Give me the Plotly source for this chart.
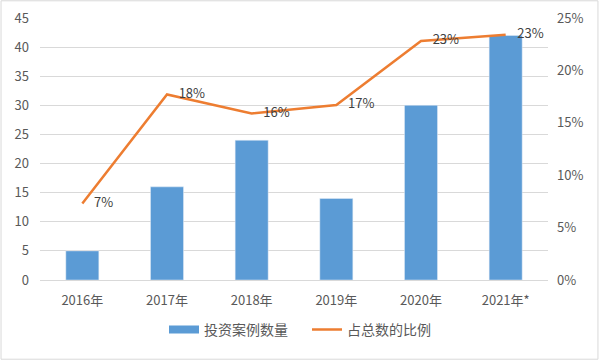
import plotly.graph_objects as go

years = ["2016年", "2017年", "2018年", "2019年", "2020年", "2021年*"]
cases = [5, 16, 24, 14, 30, 42]
ratio = [0.073, 0.177, 0.159, 0.167, 0.228, 0.234]
ratio_labels = ["7%", "18%", "16%", "17%", "23%", "23%"]

font_family = "Noto Sans CJK SC, Noto Sans, sans-serif"
BLUE = "#5B9BD5"
ORANGE = "#ED7D31"
TICK = "#595959"

fig = go.Figure()
fig.add_trace(go.Bar(
    x=years, y=cases, name="投资案例数量",
    marker=dict(color=BLUE), width=0.39, showlegend=False,
))
# legend entry drawn as a wide swatch, like the reference
fig.add_trace(go.Scatter(
    x=[None], y=[None], name="投资案例数量", mode="lines",
    line=dict(color=BLUE, width=8),
))
fig.add_trace(go.Scatter(
    x=years, y=ratio, name="占总数的比例", yaxis="y2",
    mode="lines+text", line=dict(color=ORANGE, width=2.5),
    text=["    " + t for t in ratio_labels], textposition="middle right",
    textfont=dict(size=13, color="#404040", family=font_family),
    cliponaxis=False,
))

fig.update_layout(
    width=600, height=360,
    margin=dict(l=40, r=52, t=18, b=80, autoexpand=False),
    paper_bgcolor="white", plot_bgcolor="white",
    font=dict(family=font_family, size=13, color=TICK),
    xaxis=dict(showgrid=False, showline=True, linecolor="#d9d9d9", ticks="",
               tickfont=dict(size=13, color=TICK), ticklabelstandoff=8),
    yaxis=dict(range=[0, 45], dtick=5, showgrid=True, gridcolor="#d9d9d9",
               zeroline=False, tickfont=dict(size=13, color=TICK),
               ticklabelstandoff=10),
    yaxis2=dict(range=[0, 0.25], dtick=0.05, tickformat=".0%", overlaying="y",
                side="right", showgrid=False, zeroline=False,
                tickfont=dict(size=13, color=TICK), ticklabelstandoff=8),
    legend=dict(orientation="h", x=0.5 + 13/508, xanchor="center", y=-0.19, yanchor="middle",
                font=dict(size=14, color=TICK), itemwidth=30,
                entrywidth=98, entrywidthmode="pixels",
                traceorder="normal"),
    showlegend=True,
)
fig.add_shape(type="rect", xref="paper", yref="paper",
              x0=-40/508 + 0.002, x1=(508+52)/508 - 0.004,
              y0=-80/262 + 0.003, y1=(262+18)/262 - 0.003,
              line=dict(color="#d9d9d9", width=1))
fig.write_html("out.html", config={"displayModeBar": False},
               post_script="document.body.style.margin='0';document.body.style.overflow='hidden';")
